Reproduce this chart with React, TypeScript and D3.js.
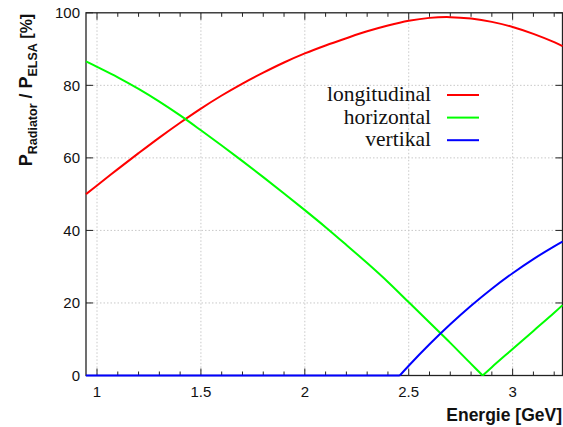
import React from "react";
import * as d3 from "d3";

const energy = [0.947, 1.0, 1.1, 1.2, 1.3, 1.4, 1.5, 1.6, 1.7, 1.8, 1.9, 2.0, 2.1, 2.2, 2.3, 2.4, 2.5, 2.6, 2.7, 2.8, 2.9, 3.0, 3.1, 3.2, 3.24];
const longitudinal = [50.0, 52.4, 56.9, 61.3, 65.6, 69.7, 73.6, 77.2, 80.5, 83.5, 86.3, 88.8, 91.0, 93.0, 94.9, 96.5, 97.8, 98.6, 98.8, 98.4, 97.5, 96.1, 94.2, 91.9, 90.8];
const horizEnergy = [0.947, 1.0, 1.1, 1.2, 1.3, 1.4, 1.5, 1.6, 1.7, 1.8, 1.9, 2.0, 2.1, 2.2, 2.3, 2.4, 2.5, 2.6, 2.7, 2.8, 2.856, 2.9, 3.0, 3.1, 3.2, 3.24];
const horizontal = [86.6, 85.1, 82.2, 79.0, 75.5, 71.7, 67.6, 63.4, 59.1, 54.7, 50.2, 45.6, 40.9, 36.0, 31.0, 25.8, 20.2, 14.6, 9.0, 3.2, 0, 2.3, 7.3, 12.3, 17.3, 19.4];
const vertEnergy = [0.947, 2.457, 2.5, 2.6, 2.7, 2.8, 2.9, 3.0, 3.1, 3.2, 3.24];
const vertikal = [0, 0, 2.7, 8.6, 14.1, 19.2, 23.9, 28.2, 32.1, 35.6, 36.9];

const xMajor = [1, 1.5, 2, 2.5, 3];
const xMinor = d3.range(1.0, 3.25, 0.1);
const yMajor = [0, 20, 40, 60, 80, 100];
const legendNames = ["longitudinal", "horizontal", "vertikal"];
const colors = ["#ff0000", "#00ff00", "#0000ff"];

type Pt = [number, number];

function splitAtKinks(xs: number[], ys: number[]): Pt[][] {
  const pts: Pt[] = xs.map((e, j) => [e, ys[j]]);
  const segs: Pt[][] = [];
  let cur: Pt[] = [pts[0]];
  for (let j = 1; j < pts.length; j++) {
    cur.push(pts[j]);
    const isKink = pts[j][1] === 0 && j < pts.length - 1 && pts[j + 1][1] !== 0;
    if (isKink) {
      segs.push(cur);
      cur = [pts[j]];
    }
  }
  if (cur.length > 1) segs.push(cur);
  return segs;
}

export default function App() {
  const W = 563, H = 427;
  const L = 86, R = 562.5, T = 12.8, B = 375.5;
  const x = d3.scaleLinear().domain([0.947, 3.24]).range([L, R]);
  const y = d3.scaleLinear().domain([0, 100]).range([B, T]);
  const line = d3.line<Pt>().x(d => x(d[0])).y(d => y(d[1])).curve(d3.curveCatmullRom.alpha(0.5));
  const series: [number[], number[]][] = [
    [energy, longitudinal],
    [horizEnergy, horizontal],
    [vertEnergy, vertikal],
  ];
  const axisColor = "#222";
  const sans = "Liberation Sans";
  return (
    <svg width={W} height={H} style={{ position: "absolute", left: 0, top: 0 }} fontFamily={sans}>
      <rect width={W} height={H} fill="#fff" />
      {xMajor.map(v => (
        <line key={"gx" + v} x1={x(v)} x2={x(v)} y1={T} y2={B} stroke="#c8c8c8" strokeDasharray="1.5,2" />
      ))}
      {yMajor.filter(v => v > 0 && v < 100).map(v => (
        <line key={"gy" + v} x1={L} x2={R} y1={y(v)} y2={y(v)} stroke="#c8c8c8" strokeDasharray="1.5,2" />
      ))}
      {xMinor.map((v, i) => {
        const major = xMajor.some(m => Math.abs(m - v) < 1e-6);
        const len = major ? 7 : 4;
        return (
          <g key={"xt" + i}>
            <line x1={x(v)} x2={x(v)} y1={B} y2={B - len} stroke={axisColor} strokeWidth={1} />
            <line x1={x(v)} x2={x(v)} y1={T} y2={T + len} stroke={axisColor} strokeWidth={1} />
          </g>
        );
      })}
      {yMajor.map(v => (
        <g key={"yt" + v}>
          <line x1={L} x2={L + 7} y1={y(v)} y2={y(v)} stroke={axisColor} />
          <line x1={R} x2={R - 7} y1={y(v)} y2={y(v)} stroke={axisColor} />
          <text x={L - 6} y={y(v)} dy="0.35em" textAnchor="end" fontSize={15} fill="#111">{v}</text>
        </g>
      ))}
      {xMajor.map(v => (
        <text key={"xl" + v} x={x(v)} y={B + 21} textAnchor="middle" fontSize={15} fill="#111">{v}</text>
      ))}
      <rect x={L} y={T} width={R - L} height={B - T} fill="none" stroke={axisColor} strokeWidth={1.3} />
      {series.map(([xs, ys], i) =>
        splitAtKinks(xs, ys).map((seg, k) => (
          <path key={"s" + i + "_" + k} d={line(seg) || ""} fill="none" stroke={colors[i]} strokeWidth={2} />
        ))
      )}
      {legendNames.map((n, i) => {
        const ly = 101 + i * 22.6;
        return (
          <g key={"lg" + i}>
            <text x={431} y={ly} textAnchor="end" fontSize={21.5} fill="#111" fontFamily="Liberation Serif">{n}</text>
            <line x1={447} x2={479} y1={ly - 6} y2={ly - 6} stroke={colors[i]} strokeWidth={2} />
          </g>
        );
      })}
      <text x={562} y={421} textAnchor="end" fontSize={17.5} fontWeight="bold" fill="#111">Energie [GeV]</text>
      <text transform="translate(32,90) rotate(-90)" textAnchor="middle" fontSize={18} fontWeight="bold" fill="#111">
        <tspan>P</tspan>
        <tspan fontSize={12.5} dy={5}>Radiator</tspan>
        <tspan dy={-5}> / P</tspan>
        <tspan fontSize={12.5} dy={5}>ELSA</tspan>
        <tspan dy={-5} fontSize={16}> [%]</tspan>
      </text>
    </svg>
  );
}
